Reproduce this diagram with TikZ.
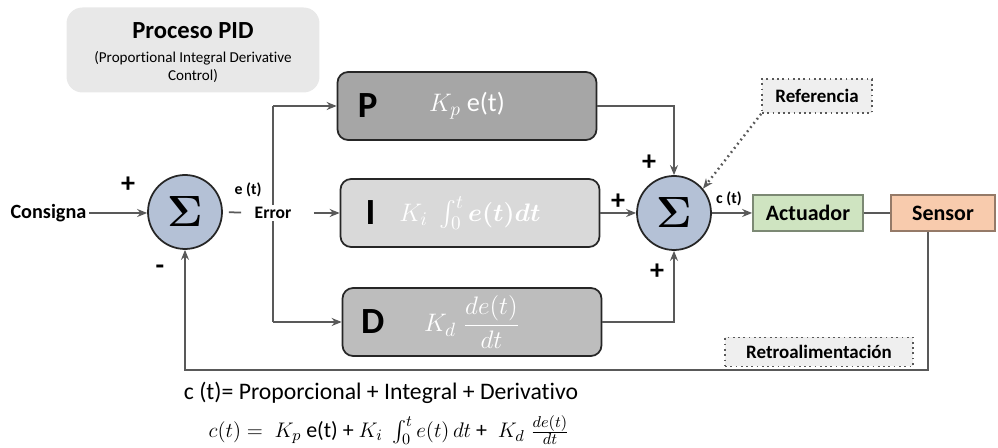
\documentclass[tikz,border=0pt]{standalone}
\usepackage{amsmath}
\usepackage[no-math]{fontspec}
\setmainfont{Carlito}[Ligatures=NoCommon]
\usetikzlibrary{arrows.meta, positioning, calc}
\definecolor{cline}{HTML}{595959}
\definecolor{cdark}{HTML}{262626}
\definecolor{cpgrey}{HTML}{A6A6A6}
\definecolor{cigrey}{HTML}{D9D9D9}
\definecolor{cdgrey}{HTML}{BDBDBD}
\definecolor{csum}{HTML}{B4C1D6}
\definecolor{cgreen}{HTML}{CFE4C1}
\definecolor{corange}{HTML}{F8CBAD}
\definecolor{cpale}{HTML}{EFEFEF}
\definecolor{ctitle}{HTML}{E8E8E8}
\tikzset{
  every picture/.style={line width=1pt},
  term/.style={draw=cdark, fill=#1, rounded corners=6pt, minimum width=5.18cm, minimum height=1.36cm},
  term/.default=cpgrey,
  letter/.style={font=\bfseries\fontsize{21}{21}\selectfont, text=black, inner sep=0pt},
  formula/.style={font=\fontsize{15}{15}\selectfont, text=white, inner sep=0pt},
  sum/.style={circle, draw=cdark, fill=csum, minimum size=1.48cm, inner sep=0pt, font=\fontsize{30}{30}\selectfont},
  stage/.style={draw=#1!60!black, fill=#1, minimum height=0.72cm, font=\bfseries\fontsize{12.5}{14}\selectfont},
  dotbox/.style={draw=cline, dotted, fill=cpale, font=\bfseries\fontsize{10.8}{12}\selectfont},
  arrow/.style={-{Stealth[length=2mm, width=1.6mm]}, draw=cline, line width=1pt},
  wire/.style={draw=cline, line width=1pt},
  lbl/.style={font=\bfseries\fontsize{11.5}{13}\selectfont, inner sep=1pt},
  tag/.style={font=\bfseries\fontsize{9}{10}\selectfont, inner sep=0pt},
  sign/.style={font=\bfseries\fontsize{16}{16}\selectfont, inner sep=0pt},
  eqn/.style={font=\fontsize{13.5}{15}\selectfont, inner sep=0pt},
}
\begin{document}
\begin{tikzpicture}[x=0.02cm, y=-0.02cm]
  \useasboundingbox (0,0) rectangle (998,448);
  \newcommand{\pidterm}[6]{% id, fill, x, y, letter, formula
    \node[term=#2] (#1) at (#3,#4) {};
    \node[letter] (#1l) at ([xshift=0.62cm]#1.west) {#5};
    \node[formula] (#1f) at (#1.center) {#6};}
  % title
  \node[fill=ctitle, rounded corners=9pt, minimum width=5.06cm, minimum height=1.7cm] (title) at (193,50) {};
  \node[font=\bfseries\fontsize{14}{16}\selectfont, inner sep=0pt] (tname) at (193,31) {Proceso PID};
  \node[font=\fontsize{8.6}{10.5}\selectfont, align=center, inner sep=0pt] (tsub) at (193,67) {(Proportional Integral Derivative\\Control)};
  % first summing point
  \node[lbl, anchor=east] (cons) at (89,213) {Consigna};
  \node[sum] (sA) at (185,212) {$\mathbf{\Sigma}$};
  \draw[arrow] (cons.east) -- (cons.east -| sA.west);
  \node[sign] (pA) at (128,185) {+};
  \node[sign] (mA) at (160,270) {-};
  \node[tag] (et) at (248,190) {e (t)};
  % P, I, D
  \pidterm{pb}{cpgrey}{467}{106}{P}{$K_p$ e(t)}
  \pidterm{ib}{cigrey}{470}{213}{I}{$K_i\;\int_0^t \boldsymbol{e(t)dt}$}
  \pidterm{db}{cdgrey}{472}{322}{D}{$K_d\;\dfrac{de(t)}{dt}$}
  \coordinate (split) at (273,213);
  \draw[wire] (pb.west -| split) -- (db.west -| split);
  \draw[arrow] (pb.west -| split) -- (pb.west);
  \draw[arrow] (db.west -| split) -- (db.west);
  \node[lbl, fill=white, font=\bfseries\fontsize{10}{12}\selectfont] (err) at (split) {Error};
  \draw[wire, shorten <=0.12cm, shorten >=0.22cm] (sA.east) -- (err.west);
  \draw[arrow, shorten <=0.4cm] (err.east) -- (ib.west);
  % second summing point
  \node[sum] (sB) at (674,213) {$\mathbf{\Sigma}$};
  \draw[arrow] (pb.east) -| (sB.north);
  \draw[arrow] (ib.east) -- (sB.west);
  \draw[arrow] (db.east) -| (sB.south);
  \node[sign] (pB) at (649,163) {+};
  \node[sign] (pC) at (618,202) {+};
  \node[sign] (pD) at (657,272) {+};
  \node[tag] (ct) at (729,199) {c (t)};
  % plant and feedback
  \node[stage=cgreen, minimum width=2.2cm] (act) at (808,213) {Actuador};
  \node[stage=corange, minimum width=2.08cm] (sen) at (943,213) {Sensor};
  \draw[arrow] (sB.east) -- (act.west);
  \draw[wire] (act.east) -- (sen.west);
  \node[dotbox, minimum width=2.2cm, minimum height=0.68cm] (ref) at (817,96) {Referencia};
  \draw[arrow, dotted, line width=1.4pt] (ref.south west) -- (sB.40);
  \node[dotbox, minimum width=3.76cm, minimum height=0.58cm] (retro) at (819,352) {Retroalimentación};
  \coordinate (drop) at ([xshift=-0.3cm]sen.south);
  \coordinate (low) at (0,370);
  \draw[arrow] (drop) -- (drop |- low) -| (sA.south);
  % equations
  \node[eqn] (eq1) at (381,393) {c (t)= Proporcional + Integral + Derivativo};
  \node[eqn, font=\fontsize{12.5}{14}\selectfont] (eq2) at (389,430) {$c(t) =\;K_p$ e(t) + $K_i\;\int_0^t e(t)\,dt$ + $\;K_d\;\frac{de(t)}{dt}$};
\end{tikzpicture}
\end{document}
